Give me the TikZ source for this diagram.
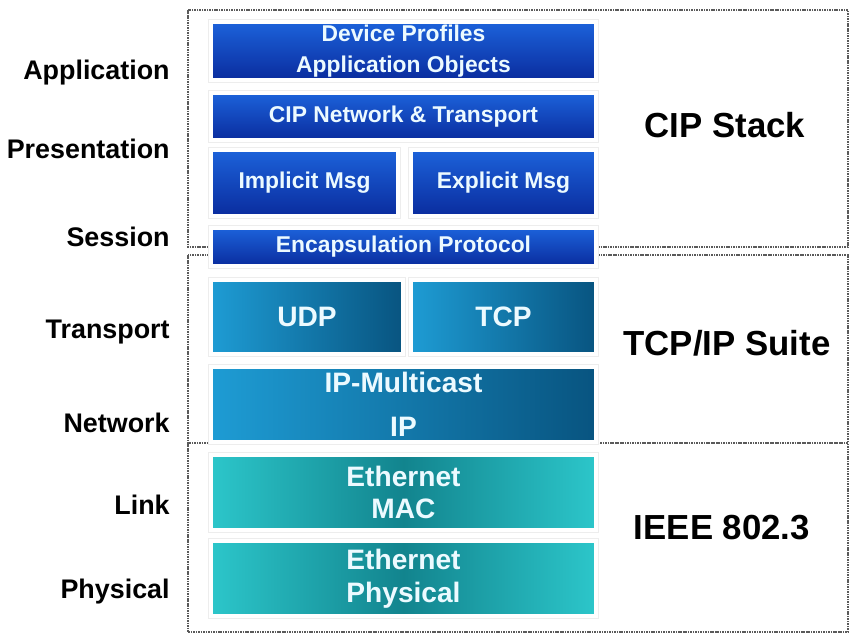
\documentclass[tikz,border=0pt]{standalone}
\usepackage{fontspec}
\setmainfont{Liberation Sans}
\usetikzlibrary{positioning}

\definecolor{cipTop}{RGB}{28,98,218}
\definecolor{cipBot}{RGB}{10,44,158}
\definecolor{tcpL}{RGB}{30,156,212}
\definecolor{tcpR}{RGB}{8,84,128}
\definecolor{ethS}{RGB}{44,198,202}
\definecolor{ethM}{RGB}{18,132,142}
\definecolor{blkText}{RGB}{236,250,255}
\definecolor{boxLine}{RGB}{90,90,90}

\tikzset{
  block/.style    = {rectangle, outer sep=0pt, inner sep=0pt, align=center,
                     text=blkText, minimum width=7.70cm,
                     preaction={draw=gray!14, line width=3.6pt},
                     draw=white, line width=2pt},
  cipblk/.style   = {block, top color=cipTop, bottom color=cipBot,
                     font=\fontsize{13}{18}\selectfont\bfseries},
  tcpblk/.style   = {block, left color=tcpL, right color=tcpR,
                     font=\fontsize{16}{20}\selectfont\bfseries},
  ethblk/.style   = {block, left color=ethS, right color=ethS, middle color=ethM,
                     font=\fontsize{16}{18.5}\selectfont\bfseries,
                     minimum height=1.5cm},
  layer/.style    = {anchor=east, inner sep=0pt,
                     font=\fontsize{15.3}{18}\selectfont\bfseries},
  suite/.style    = {inner sep=0pt, font=\fontsize{19.8}{24}\selectfont\bfseries},
  groupbox/.style = {draw=boxLine, line width=0.7pt,
                     dash pattern=on 0.9pt off 0.5pt}
}

\begin{document}
\begin{tikzpicture}

  \useasboundingbox[fill=white] (0,0) rectangle (17.2,-12.72);

  % ── Group frames ──────────────────────────────────────────────────────────
  \draw[groupbox] (3.76,-0.20) rectangle (16.96,-4.94);
  \draw[groupbox] (3.76,-5.10) rectangle (16.96,-8.86);
  \draw[groupbox] (3.76,-8.86) rectangle (16.96,-12.64);

  % ── CIP stack blocks ──────────────────────────────────────────────────────
  \node[cipblk, minimum height=1.16cm] (Dev) at (8.07,-1.02)
        {Device Profiles\\ Application Objects};
  \node[cipblk, minimum height=0.94cm, below=0.26cm of Dev] (CipNet)
        {CIP Network \& Transport};
  \node[cipblk, minimum height=1.32cm, minimum width=3.74cm,
        below=0.20cm of CipNet.south west, anchor=north west] (Impl)
        {Implicit Msg};
  \node[cipblk, minimum height=1.32cm, minimum width=3.70cm,
        right=0.26cm of Impl] (Expl) {Explicit Msg};
  \node[cipblk, minimum height=0.76cm,
        below=0.24cm of Impl.south west, anchor=north west] (Encap)
        {Encapsulation Protocol};

  % ── TCP/IP blocks ─────────────────────────────────────────────────────────
  \node[tcpblk, minimum height=1.48cm, minimum width=3.84cm,
        below=0.28cm of Encap.south west, anchor=north west] (Udp) {UDP};
  \node[tcpblk, minimum height=1.48cm, minimum width=3.70cm,
        right=0.16cm of Udp] (Tcp) {TCP};
  \node[tcpblk, minimum height=1.50cm,
        below=0.26cm of Udp.south west, anchor=north west] (Ip)
        {IP-Multicast\\[5pt] IP};

  % ── Ethernet blocks ───────────────────────────────────────────────────────
  \node[ethblk, below=0.26cm of Ip]  (Mac) {Ethernet\\ MAC};
  \node[ethblk, below=0.22cm of Mac] (Phy) {Ethernet\\ Physical};

  % ── OSI layer names ───────────────────────────────────────────────────────
  \node[layer] (LApp)  at (3.40,-1.46)  {Application};
  \node[layer] (LPres) at (3.40,-2.98)  {Presentation};
  \node[layer] (LSess) at (3.40,-4.74)  {Session};
  \node[layer] (LTran) at (3.40,-6.64)  {Transport};
  \node[layer] (LNet)  at (3.40,-8.46)  {Network};
  \node[layer] (LLink) at (3.40,-10.10) {Link};
  \node[layer] (LPhy)  at (3.40,-11.84) {Physical};

  % ── Suite names ───────────────────────────────────────────────────────────
  \node[suite] (SCip)  at (14.50,-2.50)  {CIP Stack};
  \node[suite] (STcp)  at (14.54,-6.86)  {TCP/IP Suite};
  \node[suite] (SIeee) at (14.44,-10.56) {IEEE 802.3};

\end{tikzpicture}
\end{document}
